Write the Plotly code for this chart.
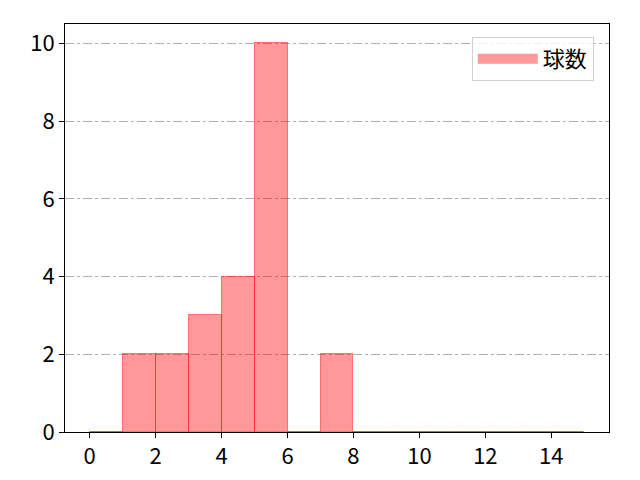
import plotly.graph_objects as go

# histogram bins (left edges, width 1) and counts
bin_left = [0, 1, 2, 3, 4, 5, 6, 7, 8, 9, 10, 11, 12, 13, 14]
counts = [0, 2, 2, 3, 4, 10, 0, 2, 0, 0, 0, 0, 0, 0, 0]
series_name = "球数"
x_ticks = [0, 2, 4, 6, 8, 10, 12, 14]
y_ticks = [0, 2, 4, 6, 8, 10]

bin_width = 1
centers = [b + bin_width / 2 for b in bin_left]
fill = "rgba(255,0,0,0.4)"

fig = go.Figure()
fig.add_trace(
    go.Bar(
        x=centers,
        y=counts,
        width=bin_width,
        name=series_name,
        marker=dict(color=fill, line=dict(color="rgba(255,0,0,0.45)", width=1)),
        showlegend=False,
    )
)
# legend-only entry so the key looks like matplotlib's wide patch
fig.add_trace(
    go.Scatter(
        x=[None],
        y=[None],
        mode="lines",
        name=series_name,
        line=dict(color=fill, width=14),
        hoverinfo="skip",
    )
)

font = dict(family="Noto Sans CJK JP, Noto Sans, sans-serif", size=22, color="black")

# the page is shown with the browser's 8px body margin, so margins are trimmed for it
fig.update_layout(
    width=640,
    height=480,
    margin=dict(l=57, r=39, t=16, b=56),
    plot_bgcolor="white",
    paper_bgcolor="white",
    font=font,
    bargap=0,
    showlegend=True,
    legend=dict(
        x=0.972,
        y=0.968,
        xanchor="right",
        yanchor="top",
        bgcolor="rgba(255,255,255,0.8)",
        bordercolor="#d0d0d0",
        borderwidth=1,
        itemwidth=60,
        font=font,
    ),
)
fig.update_xaxes(
    range=[-0.75, 15.75],
    tickvals=x_ticks,
    ticks="outside",
    ticklen=5,
    tickcolor="black",
    showline=True,
    linecolor="black",
    linewidth=1,
    mirror=True,
    showgrid=False,
    zeroline=False,
)
fig.update_yaxes(
    range=[0, 10.5],
    tickvals=y_ticks,
    ticks="outside",
    ticklen=5,
    tickcolor="black",
    showline=True,
    linecolor="black",
    linewidth=1,
    mirror=True,
    showgrid=True,
    gridcolor="#b0b0b0",
    griddash="dashdot",
    gridwidth=1,
    zeroline=False,
)

fig.write_html("out.html")
